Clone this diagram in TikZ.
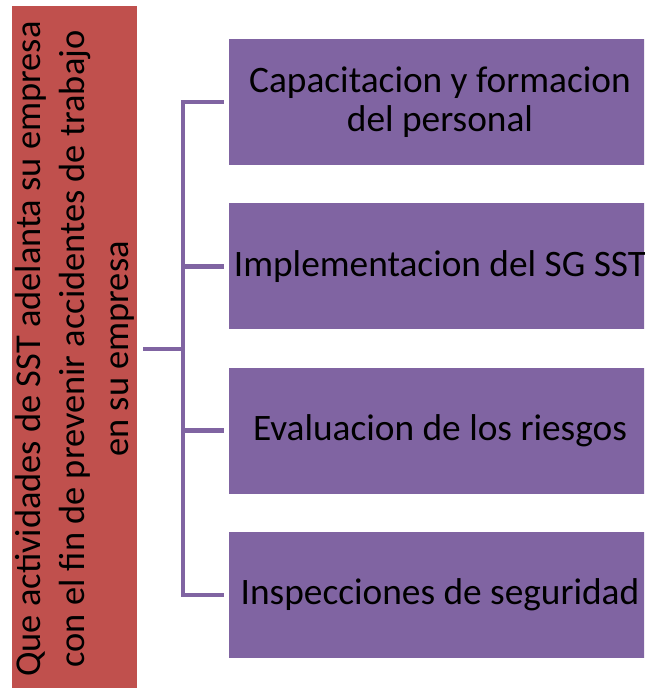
\documentclass[tikz,border=0pt]{standalone}
\usepackage{fontspec}
\setmainfont{Carlito}
\usetikzlibrary{calc}

\definecolor{sstred}{HTML}{C0504D}
\definecolor{sstpurple}{HTML}{8064A2}

\begin{document}
\begin{tikzpicture}[x=0.75pt, y=-0.75pt,
        question/.style={fill=sstred, rotate=90, align=center, inner sep=0pt,
            minimum width=514.5pt, minimum height=93.75pt,
            font=\fontsize{27.3pt}{33pt}\selectfont},
        activity/.style={fill=sstpurple, align=center, inner sep=0pt,
            minimum width=316.5pt, minimum height=94.5pt,
            font=\fontsize{28pt}{29.6pt}\selectfont},
        link/.style={draw=sstpurple, line width=3.4pt}]
        % Parameters
        \def\gapq{4.5pt} % gap after the question box
        \def\gapa{3.75pt} % gap before the activity boxes

        % Frame
        \useasboundingbox (0,0) rectangle (644,688);
        \clip (0,0) rectangle (644,688);

        % Question
        \node[question] (q) at (74.5,349) {Que actividades de SST adelanta su empresa\\
            con el fin de prevenir accidentes de trabajo\\ en su empresa};

        % Activities
        \node[activity] (a) at (440,102) {Capacitacion y formacion\\ del personal};
        \node[activity] (b) at (440,266.3) {Implementacion del SG SST};
        \node[activity] (c) at (440,430.7) {Evaluacion de los riesgos};
        \node[activity] (d) at (440,595) {Inspecciones de seguridad};

        % Bracket
        \coordinate (jq) at (183,349);
        \draw[link, shorten <=\gapq] (q.south) -- (jq);
        \draw[link, shorten <=\gapa, shorten >=\gapa] (a.west) -| (jq) |- (d.west);
        \draw[link, shorten >=\gapa] (b.west -| jq) -- (b.west);
        \draw[link, shorten >=\gapa] (c.west -| jq) -- (c.west);

    \end{tikzpicture}
\end{document}
